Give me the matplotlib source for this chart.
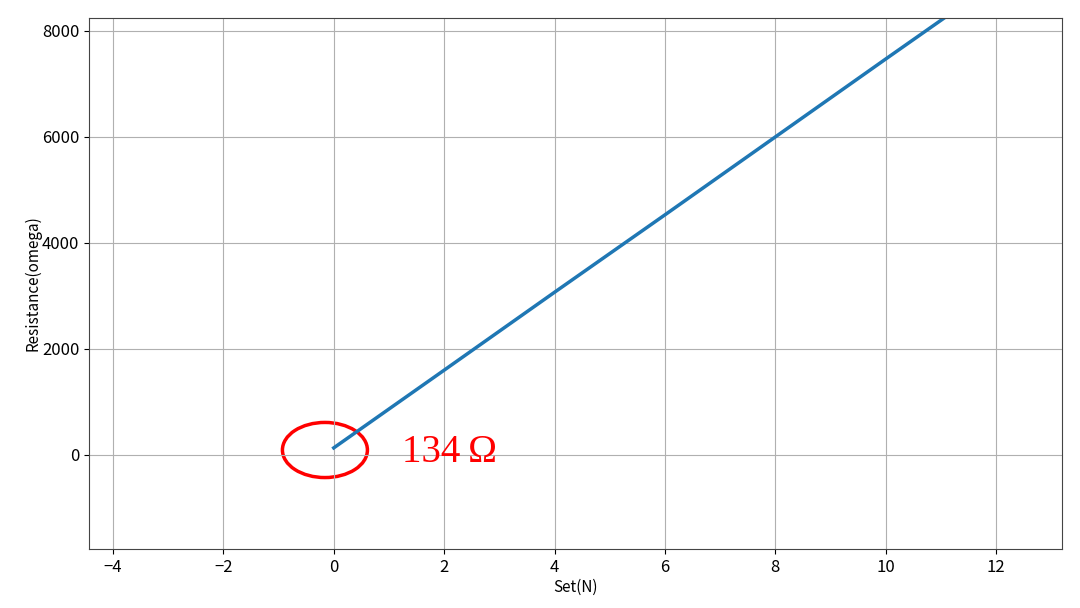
import numpy as np
import matplotlib
matplotlib.use("Agg")
import matplotlib.pyplot as plt
from matplotlib.patches import Ellipse

plt.rcParams['font.family'] = ['Noto Sans CJK SC', 'DejaVu Sans']
plt.rcParams['axes.unicode_minus'] = True

# data (linear response)
set_n = [0, 2, 4, 6, 8, 10, 12]
resistance = [134, 1600, 3070, 4530, 6000, 7470, 8930]
x_ticks = [-4, -2, 0, 2, 4, 6, 8, 10, 12]
y_ticks = [0, 2000, 4000, 6000, 8000]
note_text = "134\u2009Ω"

fig = plt.figure(figsize=(10.8, 6.08), dpi=100)
ax = fig.add_axes([89 / 1080, 1 - 549 / 608, (1062 - 89) / 1080, (549 - 18) / 608])

ax.plot(set_n, resistance, color='#1f77b4', linewidth=2.5)
ax.set_xlim(-4.435, 13.196)
ax.set_ylim(-1774, 8245)
ax.set_xticks(x_ticks)
ax.set_yticks(y_ticks)
ax.set_xticklabels([f"\u2212{-t}" if t < 0 else str(t) for t in x_ticks])
ax.tick_params(labelsize=12)
for s in ax.spines.values():
    s.set_color('#444444')
ax.grid(True, color='#b0b0b0', linewidth=0.8)
ax.set_xlabel('Set(N)', fontsize=11, labelpad=2)
ax.set_ylabel('Resistance(omega)', fontsize=11, labelpad=0)

# red hand annotation
ax.add_patch(Ellipse((-0.16, 94), 1.54, 1040, fill=False, edgecolor='red', linewidth=2.5))
ax.text(1.23, 38, note_text, color='red', fontsize=28,
        family=['Liberation Serif', 'DejaVu Serif'], va='center', ha='left')

fig.savefig('out.png', dpi=100)
